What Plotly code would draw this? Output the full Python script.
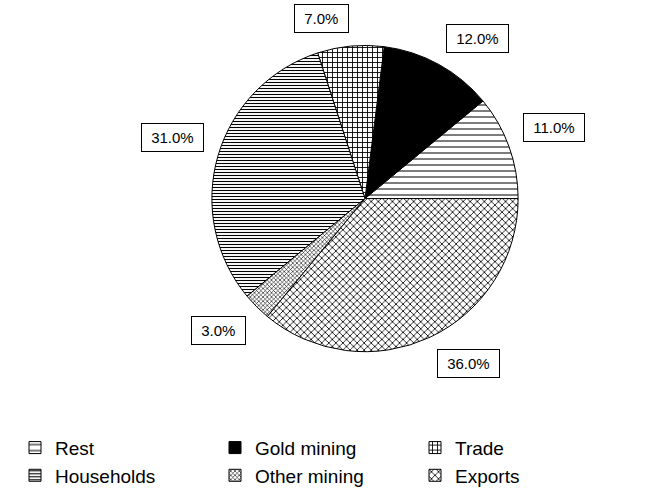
import math
import plotly.graph_objects as go

# Shares by sector (percent), drawn counter-clockwise from 3 o'clock
sectors = ["Rest", "Gold mining", "Trade", "Households", "Other mining", "Exports"]
shares = [11.0, 12.0, 7.0, 31.0, 3.0, 36.0]

# Fill styles for each sector
pattern_shapes = ["-", "", "+", "-", "x", "x"]
pattern_sizes = [6, 8, 5, 3, 3, 5]
pattern_solidity = [0.17, 0.3, 0.32, 0.36, 0.35, 0.3]
base_colors = ["white", "black", "white", "white", "white", "white"]

W, H = 652, 495
cx_px, cy_px, r_px = 365, 201, 155
dom_x = [(cx_px - r_px) / W, (cx_px + r_px) / W]
dom_y = [1 - (cy_px + r_px) / H, 1 - (cy_px - r_px) / H]

total = sum(shares)
# In counter-clockwise mode the first slice ends at `rotation`, so shift it
# back by its own span to make it start at 3 o'clock.
start_rotation = 90 - shares[0] / total * 360

fig = go.Figure(
    go.Pie(
        labels=sectors,
        values=shares,
        sort=False,
        direction="counterclockwise",
        rotation=start_rotation,
        textinfo="none",
        domain=dict(x=dom_x, y=dom_y),
        marker=dict(
            colors=base_colors,
            line=dict(color="black", width=1),
            pattern=dict(
                shape=pattern_shapes,
                size=pattern_sizes,
                solidity=pattern_solidity,
                fgcolor="black",
                bgcolor=base_colors,
                fillmode="replace",
            ),
        ),
    )
)

# Boxed percentage labels, each placed just outside its slice's mid-angle
cum = 0.0
label_gap = 13
for name, v in zip(sectors, shares):
    mid = (cum + v / 2) / total * 2 * math.pi
    cum += v
    c, s = math.cos(mid), math.sin(mid)
    R = r_px + label_gap
    fig.add_annotation(
        x=(cx_px + R * c) / W,
        y=1 - (cy_px - R * s) / H,
        xref="paper",
        yref="paper",
        text="\u00a0" + f"{v:.1f}%" + "\u00a0",
        showarrow=False,
        xanchor="left" if c >= 0 else "right",
        yanchor="bottom" if s >= 0 else "top",
        font=dict(family="Liberation Sans, Arial", size=15, color="black"),
        bordercolor="black",
        borderwidth=1,
        borderpad=5,
        bgcolor="white",
    )

fig.update_layout(
    width=W,
    height=H,
    margin=dict(l=0, r=0, t=0, b=0),
    paper_bgcolor="white",
    plot_bgcolor="white",
    font=dict(family="Liberation Sans, Arial", color="black"),
    showlegend=True,
    legend=dict(
        orientation="h",
        x=15 / W,
        xanchor="left",
        y=1 - 434 / H,
        yanchor="top",
        entrywidth=155,
        entrywidthmode="pixels",
        font=dict(size=19, color="black"),
        traceorder="normal",
        bgcolor="rgba(0,0,0,0)",
    ),
)

fig.write_html("out.html")
